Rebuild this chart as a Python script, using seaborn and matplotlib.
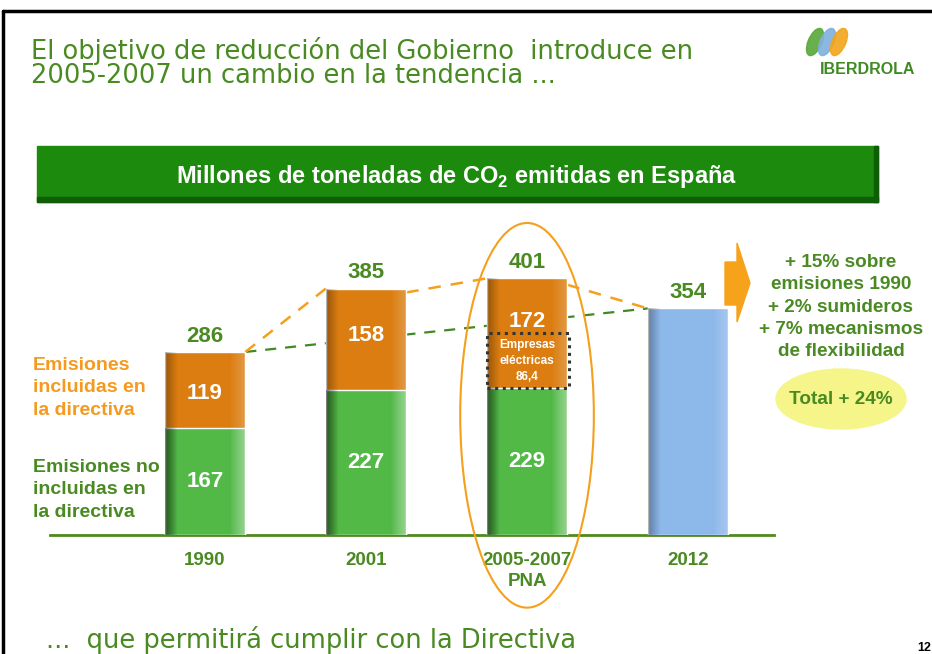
import numpy as np
import pandas as pd
import matplotlib
matplotlib.use('Agg')
import matplotlib.pyplot as plt
import seaborn as sns
from matplotlib.patches import Ellipse, Rectangle, Polygon

periodos = ['1990', '2001', '2005-2007\nPNA', '2012']
no_incluidas = [167, 227, 229, np.nan]
incluidas = [119, 158, 172, np.nan]
totales = [286, 385, 401, 354]
empresas_electricas = 86.4

sns.set_theme(style='white')
plt.rcParams['font.family'] = ['Liberation Sans', 'DejaVu Sans']
plt.rcParams['mathtext.fontset'] = 'custom'
plt.rcParams['mathtext.bf'] = 'Liberation Sans:bold'
plt.rcParams['mathtext.rm'] = 'Liberation Sans:bold'

VERDE_TXT = '#4a8a22'
NARANJA = '#db7d10'
NARANJA_TXT = '#f59a1f'
VERDE_BAR = '#52b947'
AZUL = '#8db8ea'

W, H = 932, 654
fig = plt.figure(figsize=(W / 100, H / 100), dpi=100)


def fx(x):
    return x / W


def fy(y):
    return 1 - y / H


# axes: baseline at y=535 px, x from 50 to 774 px
ax = fig.add_axes([fx(50), fy(535), fx(774) - fx(50), fy(215) - fy(535)])

df = pd.DataFrame({'periodo': periodos, 'total': totales,
                   'no_incl': no_incluidas})
paleta = [NARANJA, NARANJA, NARANJA, AZUL]
sns.barplot(data=df, x='periodo', y='total', hue='periodo', palette=paleta,
            order=periodos, width=0.5, legend=False, ax=ax, zorder=3,
            saturation=1)
sns.barplot(data=df.dropna(), x='periodo', y='no_incl', color=VERDE_BAR,
            order=periodos, width=0.5, ax=ax, zorder=3, saturation=1)

for s in ['top', 'right', 'left']:
    ax.spines[s].set_visible(False)
ax.spines['bottom'].set_color('#4f8a1f')
ax.spines['bottom'].set_linewidth(2)
ax.set_yticks([])
ax.set_xlabel('')
ax.set_ylabel('')
ax.set_xticks(range(4))
ax.set_xticklabels(periodos, color=VERDE_TXT, fontweight='bold', fontsize=13.5,
                   linespacing=1.3)
ax.tick_params(axis='x', length=0, pad=12)

# shading on bar edges (dark left, light right)
n = 60
t = np.linspace(0, 1, n)
shade = np.zeros((1, n, 4))
dark = np.clip(1 - t / 0.15, 0, 1) * 0.3
light = np.clip((t - 0.8) / 0.2, 0, 1) * 0.22
shade[0, :, :3] = np.where(light > 0, 1.0, 0.0)[:, None]
shade[0, :, 3] = dark + light
for p in list(ax.patches):
    if p.get_height() > 0:
        x0, y0 = p.get_x(), p.get_y()
        im = ax.imshow(shade, extent=[x0, x0 + p.get_width(), y0, y0 + p.get_height()],
                       aspect='auto', zorder=3.5, interpolation='bilinear')
        im.set_clip_path(p)
ax.set_xlim(-0.963, 3.534)
ax.set_ylim(0, 500)

bw = 0.5
# dashed trend lines
ax.plot([0 + bw / 2, 3 - bw / 2], [totales[0], totales[3]], ls=(0, (5, 4)),
        color='#3f8a22', lw=1.6, zorder=2)
ax.plot([0 + bw / 2, 1 - bw / 2], [totales[0], totales[1]], ls=(0, (5, 4)),
        color='#f5a01c', lw=1.8, zorder=2)
ax.plot([1 + bw / 2, 2 - bw / 2], [totales[1] - 6, totales[2]], ls=(0, (5, 4)),
        color='#f5a01c', lw=1.8, zorder=2)
ax.plot([2 + bw / 2, 3 - bw / 2], [totales[2] - 10, totales[3]], ls=(0, (5, 4)),
        color='#f5a01c', lw=1.8, zorder=2)

# values
for i, v in enumerate(totales):
    ax.text(i, v + 8, str(v), ha='center', va='bottom', color=VERDE_TXT,
            fontweight='bold', fontsize=16, zorder=5)
for i in range(3):
    ax.text(i, no_incluidas[i] / 2, str(no_incluidas[i]), ha='center', va='center',
            color='white', fontweight='bold', fontsize=16, zorder=5)
ax.text(0, no_incluidas[0] + incluidas[0] / 2 - 5, str(incluidas[0]), ha='center',
        va='center', color='white', fontweight='bold', fontsize=16, zorder=5)
ax.text(1, no_incluidas[1] + incluidas[1] / 2 + 5, str(incluidas[1]), ha='center',
        va='center', color='white', fontweight='bold', fontsize=16, zorder=5)
ax.text(2, totales[2] - 68, str(incluidas[2]), ha='center',
        va='center', color='white', fontweight='bold', fontsize=16, zorder=5)

# Empresas eléctricas box
ax.add_patch(Rectangle((2 - bw / 2, no_incluidas[2]), bw * 1.02, empresas_electricas,
                       fill=False, ls=(0, (1, 1.5)), lw=2.2, ec='#333333', zorder=4))
ax.text(2, no_incluidas[2] + empresas_electricas / 2,
        'Empresas\neléctricas\n' + str(empresas_electricas).replace('.', ','),
        ha='center', va='center', color='white', fontweight='bold', fontsize=8.5,
        linespacing=1.45, zorder=5)

# ellipse around 2005-2007
ax.add_patch(Ellipse((2, 187), 0.83, 601, fill=False, ec='#f5a01c', lw=1.5,
                     clip_on=False, zorder=6))

# left labels
fig.text(fx(33), fy(357), 'Emisiones\nincluidas en\nla directiva', color=NARANJA_TXT,
         fontweight='bold', fontsize=14, va='top', linespacing=1.42)
fig.text(fx(33), fy(459), 'Emisiones no\nincluidas en\nla directiva', color=VERDE_TXT,
         fontweight='bold', fontsize=14, va='top', linespacing=1.42)

# right notes
fig.text(fx(841), fy(307), '+ 15% sobre\nemisiones 1990\n+ 2% sumideros\n'
         '+ 7% mecanismos\nde flexibilidad', color=VERDE_TXT, fontweight='bold',
         fontsize=13.7, ha='center', va='center', linespacing=1.4)
fig.patches.append(Ellipse((fx(841), fy(399)), fx(130), 60 / H, color='#f5f58a',
                           transform=fig.transFigure, zorder=1))
fig.text(fx(841), fy(399), 'Total + 24%', color=VERDE_TXT, fontweight='bold',
         fontsize=13.7, ha='center', va='center')
fig.patches.append(Polygon([(fx(725), fy(262)), (fx(737), fy(262)), (fx(737), fy(243)),
                            (fx(750), fy(283)), (fx(737), fy(322)), (fx(737), fy(305)),
                            (fx(725), fy(305))], closed=True, color='#f7a21b',
                           transform=fig.transFigure))

# title band
fig.patches.append(Rectangle((fx(37), fy(202)), fx(841), 56 / H, color='#1c8a0c',
                             transform=fig.transFigure, zorder=0))
fig.patches.append(Rectangle((fx(37), fy(202)), fx(841), 5 / H, color='#0f5e07',
                             transform=fig.transFigure, zorder=0))
fig.patches.append(Rectangle((fx(874), fy(202)), fx(4), 56 / H, color='#0f5e07',
                             transform=fig.transFigure, zorder=0))
fig.text(fx(457), fy(176), r'Millones de toneladas de CO$_\mathbf{2}$ emitidas en España',
         color='white', fontweight='bold', fontsize=17, ha='center', va='center')

# header / footer
fig.text(fx(31), fy(63), 'El objetivo de reducción del Gobierno  introduce en\n'
         '2005-2007 un cambio en la tendencia ...', color=VERDE_TXT, fontsize=18.5,
         family='DejaVu Sans', va='center', linespacing=0.9)
fig.text(fx(46), fy(640), '...  que permitirá cumplir con la Directiva',
         color=VERDE_TXT, fontsize=18.5, family='DejaVu Sans', va='center')
fig.text(fx(917), fy(648), '12', color='black', fontweight='bold', fontsize=9,
         va='center')

# logo
fig.text(fx(868), fy(69), 'IBERDROLA', color='#3f8a22', fontweight='bold',
         fontsize=11.5, ha='center', va='center')
for cx, col in [(815, '#58a838'), (827, '#7fb0de'), (839, '#f2a51a')]:
    fig.patches.append(Ellipse((fx(cx), fy(42)), fx(14), 28 / H, angle=-15,
                               color=col, transform=fig.transFigure, alpha=0.9))

# frame
fig.add_artist(plt.Line2D([fx(3), fx(3)], [0, fy(11)], color='black', lw=2.5,
                          transform=fig.transFigure))
fig.add_artist(plt.Line2D([fx(3), 1], [fy(11), fy(11)], color='black', lw=2.5,
                          transform=fig.transFigure))

fig.savefig('out.png', dpi=100)
